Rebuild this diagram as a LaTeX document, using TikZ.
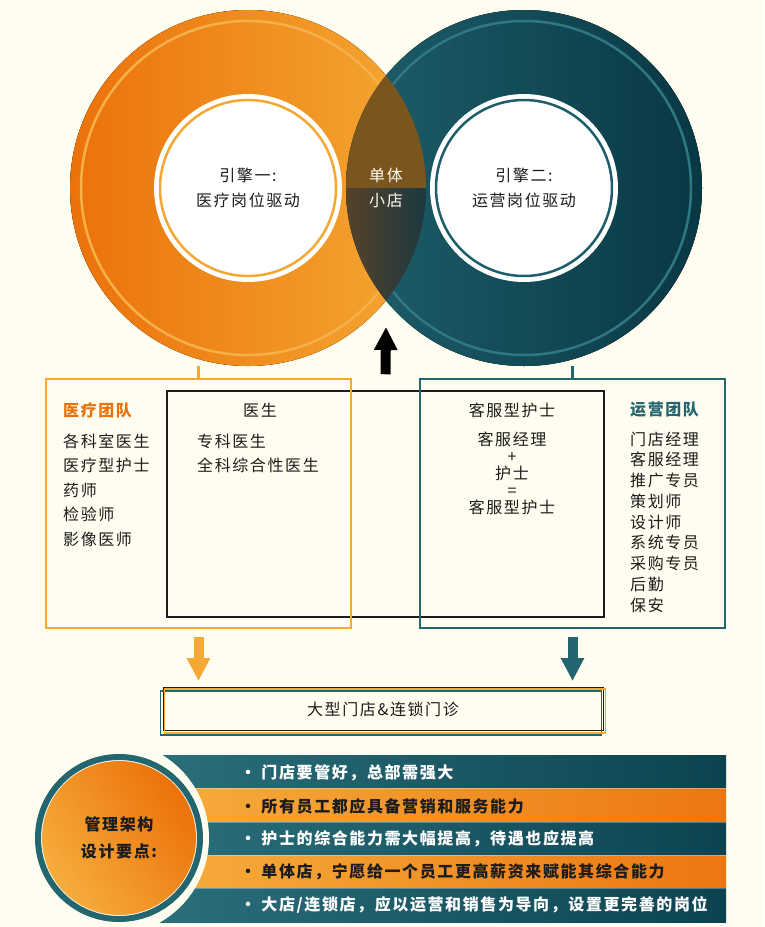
\documentclass[tikz,border=0pt]{standalone}
\usepackage{fontspec}
\setmainfont{Noto Sans CJK SC}[LetterSpace=10]
\usepackage{tikz}
\usetikzlibrary{arrows.meta,positioning}
\definecolor{bgcream}{HTML}{FFFDF0}
\definecolor{orangeL}{HTML}{F5A833}
\definecolor{orangeD}{HTML}{EB720A}
\definecolor{tealL}{HTML}{23666F}
\definecolor{tealM}{HTML}{1E5E6A}
\definecolor{tealD}{HTML}{083844}
\definecolor{ringO}{HTML}{F6B04A}
\definecolor{ringT}{HTML}{2F7783}
\definecolor{lensTop}{HTML}{7A551E}
\definecolor{lensL}{HTML}{584229}
\definecolor{lensR}{HTML}{1B3840}
\definecolor{bandTL}{HTML}{2A6F7A}
\definecolor{bandTR}{HTML}{0D4350}
\definecolor{bandOL}{HTML}{F6AD3C}
\definecolor{bandOR}{HTML}{EC7612}
\definecolor{inkdark}{HTML}{1C1C1C}
\begin{document}
\begin{tikzpicture}[x=1pt,y=-1pt,
  txt/.style={inner sep=0pt,font=\fontsize{16}{24.5}\selectfont,text=inkdark},
  head/.style={inner sep=0pt,font=\fontsize{16}{20}\selectfont\bfseries},
  bigring/.style={circle,minimum size=356pt,inner sep=0pt},
  core/.style={circle,fill=white,minimum size=188pt,inner sep=0pt,align=center,font=\fontsize{16}{25}\selectfont,text=inkdark},
  fatarrow/.style={line width=10pt,-{Triangle[width=22pt,length=23pt]}},
  tealband/.style={left color=bandTL,right color=bandTR},
  orangeband/.style={left color=bandOL,right color=bandOR},
  pointtxt/.style={anchor=west,inner sep=0pt,font=\fontsize{16}{18}\selectfont\bfseries}]
\useasboundingbox (0,0) rectangle (764,927);
\fill[bgcream] (0,0) rectangle (764,927);

\node[draw=inkdark,line width=1.5pt,minimum width=437pt,minimum height=226pt] (box_core) at (385.5,504) {};
\node[draw=orangeL,line width=2.5pt,minimum width=305pt,minimum height=249pt] (box_med) at (198.5,503.5) {};
\node[draw=tealL,line width=2.5pt,minimum width=305pt,minimum height=249pt] (box_ops) at (572.5,503.5) {};

\node[bigring,left color=orangeD,right color=orangeL] (eng_med) at (248,188) {};
\node[bigring,left color=tealM,right color=tealD] (eng_ops) at (524,188) {};
\draw[orangeL,line width=3pt] (box_med.north) -- (box_med.north |- eng_med.south);
\draw[tealL,line width=3pt] (box_ops.north) -- (box_ops.north |- eng_ops.south);
\fill[left color=orangeD,right color=orangeL] (eng_med.center) circle (178pt);
\draw[ringO,line width=2.5pt] (eng_med.center) circle (167pt);
\fill[left color=tealM,right color=tealD] (eng_ops.center) circle (178pt);
\draw[ringT,line width=2.5pt] (eng_ops.center) circle (167pt);
\begin{scope}
\clip (eng_med.center) circle (178pt);
\clip (eng_ops.center) circle (178pt);
\fill[lensTop] (330,0) rectangle (440,188);
\shade[left color=lensL,right color=lensR] (344,188) rectangle (428,310);
\end{scope}

\node[core] (core_med) at (248,188) {引擎一:\\医疗岗位驱动};
\draw[orangeL,line width=2.5pt] (core_med.center) circle (88pt);
\node[core] (core_ops) at (524,188) {引擎二:\\运营岗位驱动};
\draw[tealM,line width=2.5pt] (core_ops.center) circle (88pt);
\node[txt,text=bgcream,align=center,font=\fontsize{16}{25}\selectfont] (lens_txt) at (386,188) {单体\\小店};
\coordinate (lens_tip) at (386,327);
\draw[fatarrow,black] ([yshift=16pt]box_core.north) -- (lens_tip);

\node[head,text=orangeD,anchor=west] (med_head) at (63,410) {医疗团队};
\node[txt,anchor=west,align=left] (med_list) at (63,490) {各科室医生\\医疗型护士\\药师\\检验师\\影像医师};
\node[txt] (doc_head) at (260,410) {医生};
\node[txt,anchor=west,align=left] (doc_list) at (197,453.5) {专科医生\\全科综合性医生};
\node[txt] (nurse_head) at (512,410) {客服型护士};
\node[txt,align=center,font=\fontsize{16}{17}\selectfont] (nurse_sum) at (512,473) {客服经理\\+\\护士\\=\\客服型护士};
\node[head,text=tealL,anchor=west] (ops_head) at (630,410) {运营团队};
\node[txt,anchor=west,align=left,font=\fontsize{16}{20.75}\selectfont] (ops_list) at (630,522) {门店经理\\客服经理\\推广专员\\策划师\\设计师\\系统专员\\采购专员\\后勤\\保安};

\node[txt,draw=inkdark,line width=1pt,minimum width=440pt,minimum height=43pt] (box_chain) at (383,709) {大型门店\&连锁门诊};
\draw[tealL,line width=1.2pt] ([xshift=-2pt,yshift=-4pt]box_chain.south west) rectangle ([xshift=-2pt,yshift=-4pt]box_chain.north east);
\draw[orangeL,line width=1.2pt] ([xshift=2pt,yshift=-2pt]box_chain.south west) rectangle ([xshift=2pt,yshift=-2pt]box_chain.north east);
\draw[fatarrow,orangeL] ([yshift=-8pt]box_med.south) -- ([yshift=6pt]box_med.south |- box_chain.north);
\draw[fatarrow,tealL] ([yshift=-8pt]box_ops.south) -- ([yshift=6pt]box_ops.south |- box_chain.north);

\shade[tealband] (160,755) rectangle (726,788);
\shade[orangeband] (160,788) rectangle (726,822);
\shade[tealband] (160,822) rectangle (726,855);
\shade[orangeband] (160,855) rectangle (726,888);
\shade[tealband] (160,888) rectangle (726,922);
\foreach \yy in {788,822,855,888}
  \draw[white,opacity=0.3,line width=0.8pt] (160,\yy) -- (726,\yy);
\fill[bgcream] (112,838) circle (97pt);
\draw[tealL,line width=6pt] (119,838) circle (81pt);
\node[circle,minimum size=154pt,inner sep=0pt,left color=bandOL,right color=orangeD,shading angle=125,align=center,font=\fontsize{16}{27}\selectfont\bfseries,text=inkdark] (key_note) at (119,838) {管理架构\\设计要点:};

\node[pointtxt,text=white] (pt_one) at (240,773) {· 门店要管好，总部需强大};
\node[pointtxt,text=inkdark] (pt_two) at (240,806) {· 所有员工都应具备营销和服务能力};
\node[pointtxt,text=white] (pt_three) at (240,839) {· 护士的综合能力需大幅提高，待遇也应提高};
\node[pointtxt,text=inkdark] (pt_four) at (240,872) {· 单体店，宁愿给一个员工更高薪资来赋能其综合能力};
\node[pointtxt,text=white] (pt_five) at (240,905) {· 大店/连锁店，应以运营和销售为导向，设置更完善的岗位};
\end{tikzpicture}
\end{document}
